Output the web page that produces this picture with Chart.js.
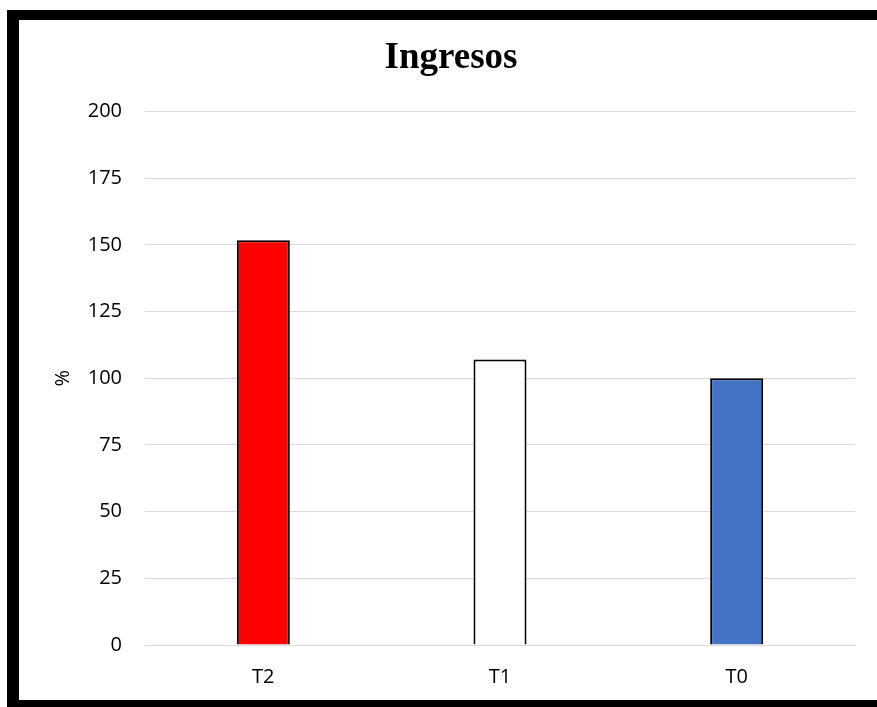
<!DOCTYPE html>
<html>
<head>
<meta charset="utf-8">
<script src="https://cdn.jsdelivr.net/npm/chart.js@4/dist/chart.umd.min.js"></script>
<style>
  html, body { margin: 0; padding: 0; background: #fff; }
  #wrap { width: 877px; height: 707px; position: relative; }
</style>
</head>
<body>
<div id="wrap"><canvas id="c" width="877" height="707"></canvas></div>
<script>
// Income index per treatment (%)
const categories = ['T2', 'T1', 'T0'];
const ingresos = [151.7, 107, 100];
const barColors = ['#ff0000', '#ffffff', '#4472c4'];
const yTicks = [0, 25, 50, 75, 100, 125, 150, 175, 200];

const sans = "'Open Sans', 'Noto Sans', sans-serif";

// white page plus the heavy black frame round the chart
const framePlugin = {
  id: 'frame',
  beforeDraw(chart) {
    const ctx = chart.ctx;
    ctx.save();
    ctx.fillStyle = '#ffffff';
    ctx.fillRect(0, 0, chart.width, chart.height);
    ctx.restore();
  },
  afterDraw(chart) {
    const ctx = chart.ctx;
    ctx.save();
    ctx.fillStyle = '#000000';
    ctx.fillRect(7, 10, chart.width - 7, 10);   // top
    ctx.fillRect(7, 10, 12, chart.height - 10); // left
    ctx.fillRect(7, 700, chart.width - 7, 7);   // bottom
    ctx.restore();
  }
};

new Chart(document.getElementById('c'), {
  type: 'bar',
  data: {
    labels: categories,
    datasets: [{
      data: ingresos,
      backgroundColor: barColors,
      borderColor: '#000000',
      borderWidth: 2,
      categoryPercentage: 1,
      barPercentage: 0.224
    }]
  },
  options: {
    responsive: false,
    animation: false,
    layout: { padding: { left: 47, right: 22, top: 14, bottom: 18 } },
    plugins: {
      legend: { display: false },
      tooltip: { enabled: false },
      title: {
        display: true,
        text: 'Ingresos',
        color: '#000000',
        font: { family: "'Liberation Serif', 'Times New Roman', serif", size: 37, weight: 'bold' },
        padding: { top: 22, bottom: 31 }
      }
    },
    scales: {
      x: {
        grid: { display: false, drawTicks: false },
        border: { display: true, color: '#d9d9d9', width: 1 },
        ticks: { color: '#000000', font: { family: sans, size: 20 }, padding: 20 },
        afterFit(scale) { scale.height = 44; }
      },
      y: {
        min: 0,
        max: 200,
        afterBuildTicks(scale) { scale.ticks = yTicks.map(v => ({ value: v })); },
        grid: { color: '#d9d9d9', lineWidth: 1, drawTicks: false },
        border: { display: false },
        ticks: { color: '#000000', font: { family: sans, size: 20 }, padding: 23 },
        title: {
          display: true,
          text: '%',
          color: '#000000',
          font: { family: sans, size: 20 }
        },
        afterFit(scale) { scale.width = 98; }
      }
    }
  },
  plugins: [framePlugin]
});
</script>
</body>
</html>
